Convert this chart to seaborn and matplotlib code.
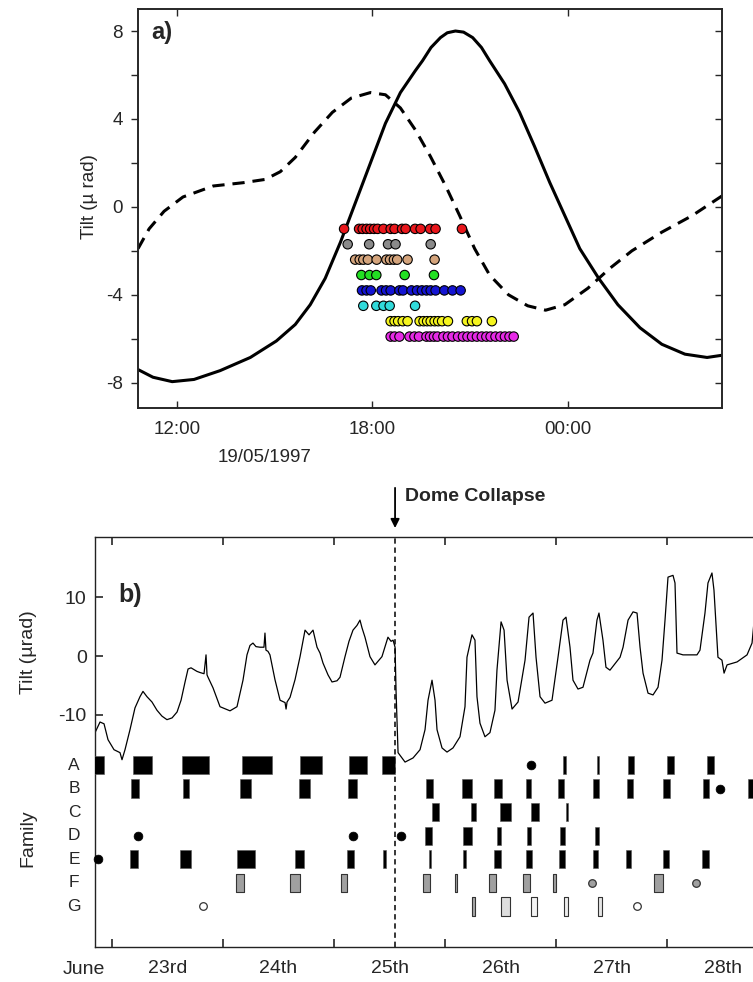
import numpy as np
import pandas as pd
import seaborn as sns
import matplotlib.pyplot as plt
import matplotlib.transforms as mtrans
from matplotlib.ticker import FixedLocator, NullFormatter

sns.set_style('ticks')
plt.rcParams['font.family'] = ['Liberation Sans', 'DejaVu Sans']
plt.rcParams['axes.unicode_minus'] = False

# ---------------- panel a : 19/05/1997, hours from 00:00 ----------------
solid_t = [10.80, 11.26, 11.85, 12.52, 13.32, 14.25, 15.05, 15.63, 16.09, 16.55, 17.02,
           17.48, 17.94, 18.40, 18.86, 19.32, 19.54, 19.80, 20.09, 20.30, 20.55, 20.80,
           21.08, 21.35, 21.60, 22.06, 22.52, 22.98, 23.45, 23.91, 24.37, 24.95, 25.54,
           26.22, 26.89, 27.60, 28.28, 28.74]
solid_v = [-7.4, -7.75, -7.95, -7.85, -7.45, -6.85, -6.1, -5.35, -4.45, -3.25, -1.6,
           0.2, 2.0, 3.8, 5.2, 6.2, 6.65, 7.25, 7.7, 7.92, 8.0, 7.95,
           7.7, 7.25, 6.65, 5.6, 4.3, 2.75, 1.1, -0.4, -1.9, -3.25, -4.45,
           -5.5, -6.25, -6.7, -6.85, -6.75]

dash_t = [10.80, 11.14, 11.60, 12.18, 13.11, 14.03, 14.71, 15.17, 15.63, 16.22, 16.77,
          17.35, 17.94, 18.40, 18.86, 19.32, 19.78, 20.25, 20.68, 21.14, 21.60, 22.18,
          22.77, 23.32, 23.91, 24.62, 25.29, 25.97, 26.89, 27.82, 28.74]
dash_v = [-1.9, -1.0, -0.2, 0.45, 0.95, 1.1, 1.25, 1.6, 2.25, 3.4, 4.3,
          4.95, 5.2, 5.1, 4.5, 3.5, 2.3, 0.95, -0.4, -1.9, -3.1, -4.0,
          -4.5, -4.7, -4.45, -3.7, -2.8, -2.0, -1.15, -0.4, 0.5]

swarm_names = ['red', 'grey', 'tan', 'green', 'blue', 'cyan', 'yellow', 'magenta']
swarm_colors = ['#e8161b', '#8a8a8a', '#d4a47c', '#22e022', '#1414d2', '#30dada', '#f5f51e', '#e62ae6']
swarm_level = [-1.0, -1.7, -2.4, -3.1, -3.8, -4.5, -5.2, -5.9]
swarm_red = [17.13, 17.59, 17.70, 17.82, 17.93, 18.05, 18.16, 18.34, 18.56, 18.68, 18.91,
             19.02, 19.31, 19.48, 19.77, 19.94, 20.75]
swarm_grey = [17.24, 17.90, 18.48, 18.71, 19.79]
swarm_tan = [17.47, 17.61, 17.72, 17.86, 18.13, 18.43, 18.54, 18.66, 18.76, 19.08, 19.91]
swarm_green = [17.66, 17.91, 18.12, 18.99, 19.89]
swarm_blue = [17.68, 17.82, 17.95, 18.28, 18.42, 18.56, 18.83, 18.94, 19.20, 19.37, 19.52,
              19.66, 19.79, 19.94, 20.21, 20.46, 20.71]
swarm_cyan = [17.72, 18.12, 18.34, 18.53, 19.31]
swarm_yellow = [18.56, 18.68, 18.79, 18.93, 19.08, 19.45, 19.57, 19.68, 19.79, 19.91, 20.02,
                20.14, 20.32, 20.90, 21.06, 21.21, 21.67]
swarm_magenta = [18.56, 18.68, 18.83, 19.14, 19.29, 19.43, 19.66, 19.77, 19.89, 20.00, 20.18,
                 20.32, 20.46, 20.63, 20.78, 20.92, 21.06, 21.21, 21.36, 21.50, 21.63, 21.78,
                 21.93, 22.07, 22.21, 22.34]
swarm_times = [swarm_red, swarm_grey, swarm_tan, swarm_green, swarm_blue, swarm_cyan,
               swarm_yellow, swarm_magenta]
hour_ticks = [12, 18, 24]
hour_labels = ['12:00', '18:00', '00:00']

# ---------------- panel b : June 1997, days from 22 June 00:00 ----------------
tilt_day = [0.847, 0.892, 0.928, 0.964, 1.018, 1.072, 1.090, 1.117, 1.162, 1.207, 1.252,
            1.279, 1.315, 1.360, 1.405, 1.450, 1.495, 1.541, 1.586, 1.622, 1.658, 1.685,
            1.712, 1.730, 1.765, 1.793, 1.829, 1.847, 1.856, 1.865, 1.910, 1.973, 2.063,
            2.126, 2.180, 2.216, 2.243, 2.270, 2.297, 2.333, 2.369, 2.378, 2.387, 2.405,
            2.423, 2.468, 2.514, 2.559, 2.568, 2.577, 2.604, 2.649, 2.694, 2.739, 2.775,
            2.811, 2.847, 2.874, 2.901, 2.946, 2.982, 3.027, 3.054, 3.099, 3.135, 3.171,
            3.207, 3.234, 3.252, 3.279, 3.324, 3.369, 3.432, 3.486, 3.514, 3.532, 3.550,
            3.559, 3.577, 3.640, 3.712, 3.775, 3.820, 3.847, 3.883, 3.910, 3.928, 3.973,
            4.018, 4.072, 4.135, 4.180, 4.198, 4.243, 4.270, 4.288, 4.315, 4.360, 4.405,
            4.450, 4.468, 4.505, 4.532, 4.559, 4.604, 4.658, 4.721, 4.757, 4.793, 4.820,
            4.856, 4.901, 4.964, 5.018, 5.063, 5.090, 5.126, 5.153, 5.198, 5.243, 5.306,
            5.333, 5.369, 5.387, 5.423, 5.450, 5.486, 5.577, 5.604, 5.649, 5.694, 5.730,
            5.757, 5.784, 5.829, 5.874, 5.919, 5.955, 5.982, 6.009, 6.054, 6.072, 6.090,
            6.144, 6.270, 6.297, 6.342, 6.369, 6.405, 6.423, 6.459, 6.495, 6.514, 6.541,
            6.631, 6.721, 6.766, 6.802]
tilt_val = [-13.0, -11.2, -11.5, -14.2, -15.9, -16.4, -17.6, -15.9, -12.5, -8.8, -6.9,
            -6.0, -6.9, -7.8, -9.2, -10.2, -10.8, -10.5, -9.5, -7.5, -4.4, -2.2,
            -2.0, -2.2, -2.6, -2.8, -3.0, 0.2, -3.2, -3.6, -5.4, -8.6, -9.3,
            -8.6, -4.1, 0.2, 1.8, 2.2, 1.6, 1.5, 1.5, 3.9, 1.0, 0.8,
            0.2, -4.0, -7.5, -7.9, -9.0, -7.8, -7.0, -4.0, -0.1, 4.4, 3.6,
            4.4, 1.5, 0.5, -1.2, -3.2, -4.4, -4.2, -3.6, -0.1, 2.5, 4.4,
            5.2, 6.1, 4.8, 3.2, -0.1, -1.5, -0.1, 3.2, 2.5, 2.7, 1.5,
            -6.0, -16.4, -18.0, -17.3, -15.9, -12.5, -7.5, -4.1, -7.5, -12.5, -15.6,
            -16.3, -15.6, -13.7, -8.6, -0.2, 3.6, 2.7, -6.9, -11.4, -13.7, -13.0,
            -9.2, -2.4, 5.8, 4.4, -4.1, -9.0, -7.8, -0.7, 6.6, 7.3, -0.2,
            -6.9, -8.0, -7.5, -0.2, 6.1, 6.6, 1.5, -4.1, -5.6, -5.3, -0.7,
            0.5, 6.1, 7.3, 2.7, -1.9, -2.4, -0.2, 1.5, 6.1, 7.5, 7.3,
            1.5, -2.9, -6.3, -6.6, -5.3, -0.7, 6.1, 13.4, 13.7, 12.4, 0.5,
            0.2, 0.2, 1.0, 7.3, 12.4, 14.1, 11.2, -0.2, -0.7, -2.9, -1.5,
            -1.0, 0.2, 2.2, 9.5]
collapse_day = 3.55

families = ['A', 'B', 'C', 'D', 'E', 'F', 'G']
bars_A = [(0.80, 0.928), (1.186, 1.358), (1.628, 1.874), (2.168, 2.439), (2.694, 2.895),
          (3.138, 3.299), (3.432, 3.550), (5.066, 5.087), (5.372, 5.389), (5.651, 5.705),
          (5.997, 6.065), (6.358, 6.423)]
bars_B = [(1.171, 1.246), (1.642, 1.691), (2.153, 2.252), (2.685, 2.784), (3.129, 3.210),
          (3.826, 3.889), (4.150, 4.241), (4.444, 4.511), (4.727, 4.775), (5.021, 5.075),
          (5.336, 5.385), (5.642, 5.696), (5.961, 6.027), (6.327, 6.381), (6.732, 6.85)]
bars_C = [(3.880, 3.946), (4.234, 4.279), (4.495, 4.592), (4.777, 4.847), (5.087, 5.105)]
bars_D = [(3.820, 3.883), (4.159, 4.241), (4.465, 4.505), (4.741, 4.775), (5.036, 5.081),
          (5.351, 5.387)]
bars_E = [(1.165, 1.237), (1.613, 1.714), (2.123, 2.288), (2.649, 2.727), (3.114, 3.183),
          (3.439, 3.471), (3.853, 3.877), (4.159, 4.191), (4.444, 4.505), (4.730, 4.781),
          (5.027, 5.081), (5.330, 5.381), (5.628, 5.676), (5.961, 6.020), (6.318, 6.378)]
bars_F = [(2.114, 2.189), (2.604, 2.694), (3.063, 3.114), (3.798, 3.865), (4.090, 4.105),
          (4.396, 4.462), (4.700, 4.768), (4.970, 5.002), (5.886, 5.967)]
bars_G = [(4.241, 4.273), (4.505, 4.586), (4.775, 4.826), (5.072, 5.105), (5.381, 5.417)]
g_shades = ['#a8a8a8', '#dedede', '#f4f4f4', '#eeeeee', '#e6e6e6']
dots_A = [4.772]
dots_B = [6.477]
dots_D = [1.232, 3.174, 3.604]
dots_E = [0.877]
dots_F = [5.322, 6.261]
dots_G = [1.817, 5.727]
day_labels = ['23rd', '24th', '25th', '26th', '27th', '28th']

# ---------------- figure ----------------
fig = plt.figure(figsize=(7.53, 9.82), dpi=100)
ax_a = fig.add_axes([0.1833, 0.5845, 0.7756, 0.4063])
ax_b = fig.add_axes([0.1262, 0.0356, 0.8964, 0.4175])

# panel a
sns.lineplot(x=solid_t, y=solid_v, ax=ax_a, color='black', lw=2.2, estimator=None, sort=False)
sns.lineplot(x=dash_t, y=dash_v, ax=ax_a, color='black', lw=2.2, estimator=None, sort=False,
             linestyle=(0, (4, 2.6)))
rows = []
for name, lvl, times in zip(swarm_names, swarm_level, swarm_times):
    for t in times:
        rows.append({'hour': t, 'level': lvl, 'family': name})
dots = pd.DataFrame(rows)
sns.scatterplot(data=dots, x='hour', y='level', hue='family',
                palette=dict(zip(swarm_names, swarm_colors)), s=46,
                edgecolor='black', linewidth=0.8, legend=False, ax=ax_a, zorder=4)
ax_a.set_xlim(10.8, 28.74)
ax_a.set_ylim(-9.15, 9.0)
ax_a.set_xticks(hour_ticks)
ax_a.set_xticklabels(hour_labels)
ax_a.set_yticks([-8, -4, 0, 4, 8])
ax_a.yaxis.set_minor_locator(FixedLocator([-6, -2, 2, 6]))
ax_a.tick_params(axis='y', which='both', direction='out', left=True, right=False,
                 labelsize=13.5, length=5, width=1, pad=6)
ax_a.tick_params(axis='y', which='minor', length=5)
ax_a.tick_params(axis='x', direction='in', top=True, bottom=True, labelsize=13.5,
                 length=5, width=1, pad=9)
ax_a.set_xlabel('')
ax_a.set_ylabel('Tilt (µ rad)', fontsize=13.5)
ax_a.yaxis.set_label_coords(-0.068, 0.53)
twin = ax_a.twinx()
twin.set_ylim(ax_a.get_ylim())
twin.set_yticks([-8, -4, 0, 4, 8])
twin.yaxis.set_minor_locator(FixedLocator([-6, -2, 2, 6]))
twin.tick_params(axis='y', which='both', direction='in', length=5, width=1, labelright=False)
twin.yaxis.set_minor_formatter(NullFormatter())
for axx in (ax_a, twin):
    for sp in axx.spines.values():
        sp.set_linewidth(1.2)
ax_a.text(0.022, 0.94, 'a)', transform=ax_a.transAxes, fontsize=17, fontweight='bold',
          va='center', ha='left')
ax_a.text(0.217, -0.125, '19/05/1997', transform=ax_a.transAxes, fontsize=13.5,
          ha='center', va='center')

# panel b
sns.lineplot(x=tilt_day, y=tilt_val, ax=ax_b, color='black', lw=0.9, estimator=None, sort=False)
ax_b.axvline(collapse_day, color='black', lw=1.1, ls=(0, (3.5, 2.5)), zorder=1)

bar_lists = [bars_A, bars_B, bars_C, bars_D, bars_E, bars_F, bars_G]
row_y = {}
for i, fam in enumerate(families):
    y = -18.5 - 4.0 * i
    row_y[fam] = y
    spans = [(s, e - s) for s, e in bar_lists[i]]
    if fam == 'F':
        ax_b.broken_barh(spans, (y - 1.55, 3.1), facecolors='#a0a0a0', edgecolors='#333333',
                         linewidth=0.8, zorder=3)
    elif fam == 'G':
        ax_b.broken_barh(spans, (y - 1.55, 3.1), facecolors=g_shades, edgecolors='#333333',
                         linewidth=0.8, zorder=3)
    else:
        ax_b.broken_barh(spans, (y - 1.55, 3.1), facecolors='black', edgecolors='#555555',
                         linewidth=0.4, zorder=3)

black_dots = pd.DataFrame({
    'day': dots_A + dots_B + dots_D + dots_E,
    'y': [row_y['A']] * len(dots_A) + [row_y['B']] * len(dots_B)
         + [row_y['D']] * len(dots_D) + [row_y['E']] * len(dots_E)})
sns.scatterplot(data=black_dots, x='day', y='y', color='black', s=40, edgecolor='black',
                linewidth=0.5, ax=ax_b, zorder=4, clip_on=False)
sns.scatterplot(x=dots_F, y=[row_y['F']] * len(dots_F), color='#a0a0a0', s=30,
                edgecolor='#333333', linewidth=0.9, ax=ax_b, zorder=4)
sns.scatterplot(x=dots_G, y=[row_y['G']] * len(dots_G), color='white', s=30,
                edgecolor='#333333', linewidth=0.9, ax=ax_b, zorder=4)

ax_b.set_xlim(0.847, 6.928)
ax_b.set_ylim(-49.4, 20.2)
ax_b.set_yticks([-10, 0, 10])
ax_b.set_xticks([1, 2, 3, 4, 5, 6])
ax_b.set_xticklabels([])
ax_b.set_xticks([1.5, 2.5, 3.5, 4.5, 5.5, 6.5], minor=True)
ax_b.set_xticklabels(day_labels, minor=True)
ax_b.tick_params(axis='x', which='major', direction='in', top=True, bottom=True,
                 length=6, width=1.2)
ax_b.tick_params(axis='x', which='minor', length=0, labelsize=14, pad=9)
ax_b.tick_params(axis='y', direction='in', length=6, width=1.2, labelsize=14, pad=6)
ax_b.set_xlabel('')
ax_b.set_ylabel('')
for sp in ax_b.spines.values():
    sp.set_linewidth(1.0)
    sp.set_color('#222222')

tr = mtrans.blended_transform_factory(ax_b.transData, ax_b.transAxes)
ax_b.text(0.75, -0.056, 'June', transform=tr, fontsize=14, ha='center', va='center')
tr_y = mtrans.blended_transform_factory(ax_b.transAxes, ax_b.transData)
for fam in families:
    ax_b.text(-0.031, row_y[fam], fam, transform=tr_y, fontsize=12.5, ha='center', va='center')
ax_b.text(-0.099, 0.72, 'Tilt (µrad)', transform=ax_b.transAxes, rotation=90,
          fontsize=14, ha='center', va='center')
ax_b.text(-0.099, 0.266, 'Family', transform=ax_b.transAxes, rotation=90,
          fontsize=14, ha='center', va='center')
ax_b.text(0.034, 0.859, 'b)', transform=ax_b.transAxes, fontsize=18, fontweight='bold',
          ha='left', va='center')

ax_b.annotate('', xy=(collapse_day, 1.022), xycoords=tr,
              xytext=(collapse_day, 1.12), textcoords=tr,
              arrowprops=dict(arrowstyle='-|>', color='black', lw=1.3, mutation_scale=13,
                              shrinkA=0, shrinkB=0))
ax_b.text(collapse_day + 0.09, 1.098, 'Dome Collapse', transform=tr, fontsize=14,
          fontweight='bold', ha='left', va='center')

fig.savefig('out.png', dpi=100)
